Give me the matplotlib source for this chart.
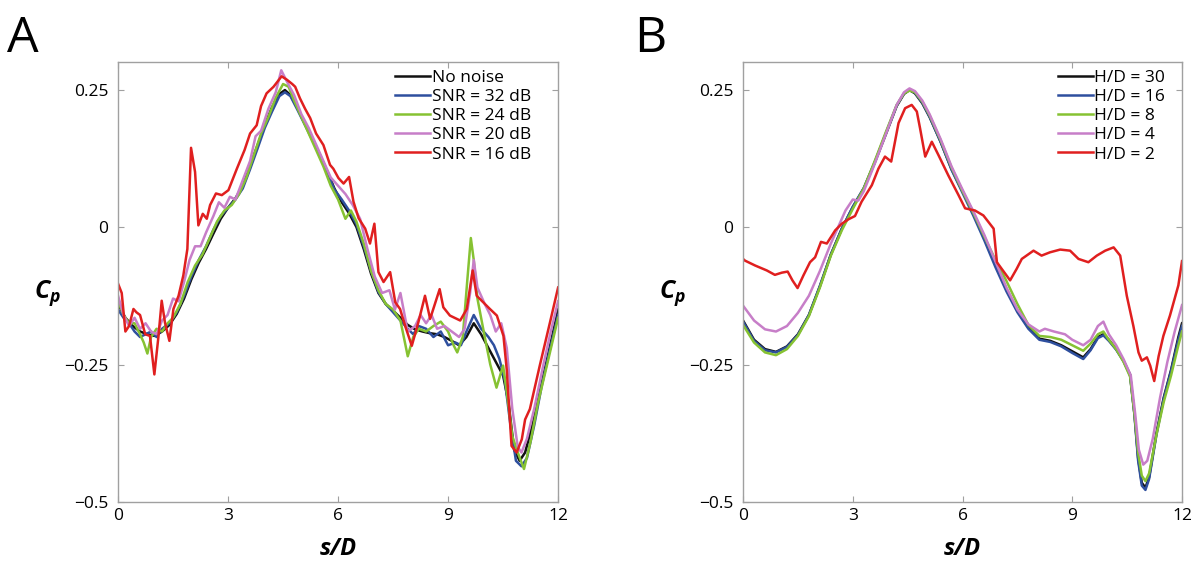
import matplotlib
matplotlib.use("Agg")
import matplotlib.pyplot as plt

plt.rcParams['font.family'] = ['Open Sans', 'DejaVu Sans']
plt.rcParams['mathtext.fontset'] = 'custom'
plt.rcParams['mathtext.it'] = 'Open Sans:italic:bold'
plt.rcParams['mathtext.rm'] = 'Open Sans:bold'

# ---- data (s/D, Cp) ----
# panel A: noise levels
a_no_noise = [(0, -0.14), (0.2, -0.165), (0.4, -0.18), (0.6, -0.19), (0.8, -0.195), (1.0, -0.198),
              (1.2, -0.19), (1.4, -0.178), (1.6, -0.158), (1.8, -0.13), (2.0, -0.095), (2.2, -0.065),
              (2.4, -0.04), (2.6, -0.012), (2.8, 0.015), (3.0, 0.035), (3.2, 0.052), (3.4, 0.075),
              (3.6, 0.112), (3.8, 0.148), (4.0, 0.185), (4.2, 0.218), (4.4, 0.242), (4.55, 0.249),
              (4.7, 0.24), (4.9, 0.215), (5.1, 0.188), (5.3, 0.16), (5.5, 0.132), (5.7, 0.102),
              (5.9, 0.07), (6.1, 0.045), (6.3, 0.025), (6.5, 0.0), (6.7, -0.04), (6.9, -0.085),
              (7.1, -0.12), (7.3, -0.14), (7.5, -0.152), (7.7, -0.165), (7.9, -0.178), (8.1, -0.186),
              (8.3, -0.19), (8.5, -0.193), (8.7, -0.195), (8.9, -0.2), (9.1, -0.207), (9.3, -0.215),
              (9.5, -0.2), (9.7, -0.175), (9.9, -0.195), (10.1, -0.22), (10.3, -0.245), (10.5, -0.27),
              (10.65, -0.32), (10.8, -0.405), (10.95, -0.425), (11.1, -0.41), (11.3, -0.36),
              (11.5, -0.3), (11.7, -0.24), (11.9, -0.18), (12, -0.15)]
a_snr32 = [(0, -0.15), (0.15, -0.165), (0.3, -0.175), (0.45, -0.19), (0.6, -0.2), (0.75, -0.195),
           (0.9, -0.19), (1.05, -0.2), (1.2, -0.185), (1.4, -0.175), (1.6, -0.155), (1.8, -0.125),
           (2.0, -0.09), (2.2, -0.06), (2.4, -0.035), (2.6, -0.005), (2.8, 0.02), (3.0, 0.035),
           (3.2, 0.05), (3.4, 0.07), (3.6, 0.105), (3.8, 0.142), (4.0, 0.18), (4.2, 0.21),
           (4.4, 0.238), (4.55, 0.245), (4.7, 0.238), (4.9, 0.212), (5.1, 0.185), (5.3, 0.158),
           (5.5, 0.13), (5.7, 0.1), (5.9, 0.068), (6.1, 0.05), (6.3, 0.03), (6.5, 0.005),
           (6.7, -0.035), (6.9, -0.08), (7.1, -0.118), (7.3, -0.14), (7.5, -0.155), (7.7, -0.17),
           (7.9, -0.185), (8.05, -0.195), (8.2, -0.18), (8.4, -0.185), (8.6, -0.2), (8.8, -0.19),
           (9.0, -0.215), (9.2, -0.21), (9.35, -0.215), (9.5, -0.19), (9.7, -0.16), (9.9, -0.185),
           (10.1, -0.2), (10.25, -0.215), (10.4, -0.24), (10.55, -0.28), (10.7, -0.36),
           (10.85, -0.425), (11.0, -0.435), (11.15, -0.42), (11.35, -0.36), (11.55, -0.29),
           (11.75, -0.23), (12, -0.16)]
a_snr24 = [(0, -0.135), (0.15, -0.16), (0.3, -0.175), (0.45, -0.175), (0.6, -0.195), (0.7, -0.21),
           (0.8, -0.23), (0.9, -0.2), (1.05, -0.185), (1.2, -0.19), (1.35, -0.175), (1.5, -0.165),
           (1.7, -0.14), (1.9, -0.1), (2.1, -0.07), (2.3, -0.05), (2.5, -0.02), (2.7, 0.01),
           (2.9, 0.03), (3.1, 0.04), (3.3, 0.06), (3.5, 0.09), (3.7, 0.13), (3.9, 0.17),
           (4.1, 0.2), (4.3, 0.235), (4.5, 0.26), (4.65, 0.255), (4.8, 0.23), (5.0, 0.2),
           (5.2, 0.17), (5.4, 0.14), (5.6, 0.11), (5.8, 0.075), (6.0, 0.05), (6.2, 0.015),
           (6.35, 0.03), (6.5, 0.01), (6.7, -0.03), (6.9, -0.08), (7.1, -0.115), (7.3, -0.14),
           (7.5, -0.15), (7.7, -0.17), (7.9, -0.235), (8.05, -0.2), (8.2, -0.185), (8.4, -0.19),
           (8.6, -0.18), (8.8, -0.172), (9.0, -0.19), (9.15, -0.215), (9.25, -0.228), (9.4, -0.2),
           (9.52, -0.1), (9.62, -0.02), (9.7, -0.06), (9.8, -0.13), (10.0, -0.2), (10.15, -0.25),
           (10.32, -0.292), (10.5, -0.252), (10.6, -0.3), (10.75, -0.38), (10.9, -0.41),
           (11.07, -0.44), (11.25, -0.39), (11.45, -0.32), (11.7, -0.25), (12, -0.165)]
a_snr20 = [(0, -0.125), (0.15, -0.16), (0.3, -0.18), (0.45, -0.165), (0.6, -0.185), (0.75, -0.175),
           (0.9, -0.19), (1.05, -0.195), (1.2, -0.17), (1.35, -0.16), (1.5, -0.13), (1.65, -0.135),
           (1.8, -0.1), (1.95, -0.06), (2.1, -0.035), (2.25, -0.035), (2.4, -0.01), (2.6, 0.02),
           (2.75, 0.045), (2.9, 0.035), (3.05, 0.055), (3.2, 0.05), (3.4, 0.085), (3.6, 0.12),
           (3.75, 0.165), (3.9, 0.175), (4.1, 0.215), (4.3, 0.245), (4.45, 0.285), (4.6, 0.265),
           (4.8, 0.24), (5.0, 0.205), (5.2, 0.18), (5.4, 0.15), (5.6, 0.12), (5.8, 0.09),
           (6.0, 0.075), (6.2, 0.06), (6.4, 0.04), (6.6, 0.015), (6.8, -0.04), (7.0, -0.09),
           (7.2, -0.12), (7.4, -0.115), (7.55, -0.15), (7.7, -0.12), (7.9, -0.19), (8.1, -0.18),
           (8.25, -0.16), (8.4, -0.175), (8.55, -0.16), (8.7, -0.185), (8.9, -0.18), (9.1, -0.19),
           (9.3, -0.2), (9.45, -0.185), (9.6, -0.12), (9.7, -0.06), (9.8, -0.11), (10.0, -0.14),
           (10.15, -0.16), (10.3, -0.19), (10.45, -0.175), (10.6, -0.22), (10.75, -0.33),
           (10.9, -0.4), (11.0, -0.41), (11.15, -0.385), (11.35, -0.33), (11.6, -0.25),
           (11.8, -0.19), (12, -0.135)]
a_snr16 = [(0, -0.103), (0.1, -0.12), (0.2, -0.19), (0.3, -0.18), (0.42, -0.149), (0.5, -0.155),
           (0.6, -0.16), (0.74, -0.195), (0.87, -0.198), (0.99, -0.268), (1.1, -0.2), (1.19, -0.134),
           (1.28, -0.174), (1.4, -0.207), (1.51, -0.149), (1.65, -0.125), (1.78, -0.088),
           (1.89, -0.04), (1.99, 0.144), (2.1, 0.1), (2.19, 0.003), (2.31, 0.024), (2.42, 0.015),
           (2.51, 0.04), (2.67, 0.061), (2.83, 0.058), (3.01, 0.067), (3.24, 0.106), (3.45, 0.14),
           (3.6, 0.17), (3.78, 0.185), (3.9, 0.22), (4.05, 0.243), (4.24, 0.255), (4.46, 0.274),
           (4.6, 0.268), (4.75, 0.26), (4.83, 0.255), (4.96, 0.234), (5.1, 0.215), (5.24, 0.198),
           (5.4, 0.17), (5.6, 0.149), (5.78, 0.113), (5.87, 0.106), (6.01, 0.089), (6.15, 0.079),
           (6.3, 0.091), (6.42, 0.046), (6.56, 0.016), (6.74, -0.003), (6.87, -0.03), (6.99, 0.006),
           (7.1, -0.082), (7.24, -0.1), (7.42, -0.082), (7.56, -0.137), (7.69, -0.149),
           (7.83, -0.18), (8.01, -0.216), (8.19, -0.173), (8.37, -0.125), (8.51, -0.167),
           (8.77, -0.113), (8.87, -0.146), (9.05, -0.161), (9.33, -0.17), (9.51, -0.149),
           (9.67, -0.079), (9.78, -0.125), (9.96, -0.137), (10.14, -0.149), (10.33, -0.161),
           (10.51, -0.198), (10.6, -0.26), (10.73, -0.398), (10.87, -0.41), (11.01, -0.386),
           (11.1, -0.35), (11.23, -0.331), (11.5, -0.252), (11.78, -0.173), (12, -0.11)]

# panel B: height of domain
b_hd30 = [(0, -0.17), (0.3, -0.205), (0.6, -0.222), (0.9, -0.227), (1.2, -0.217), (1.5, -0.195),
          (1.8, -0.16), (2.1, -0.108), (2.4, -0.05), (2.7, -0.003), (3.0, 0.036), (3.3, 0.07),
          (3.6, 0.117), (3.9, 0.168), (4.2, 0.22), (4.4, 0.242), (4.55, 0.249), (4.7, 0.243),
          (4.9, 0.225), (5.1, 0.2), (5.4, 0.155), (5.7, 0.105), (6.0, 0.065), (6.3, 0.025),
          (6.6, -0.02), (6.9, -0.068), (7.2, -0.113), (7.5, -0.152), (7.8, -0.183), (8.1, -0.203),
          (8.4, -0.207), (8.7, -0.215), (9.0, -0.226), (9.3, -0.237), (9.5, -0.222), (9.7, -0.2),
          (9.85, -0.195), (10.0, -0.205), (10.2, -0.222), (10.4, -0.243), (10.58, -0.268),
          (10.7, -0.34), (10.8, -0.42), (10.9, -0.465), (11.0, -0.474), (11.1, -0.455),
          (11.3, -0.375), (11.5, -0.31), (11.7, -0.26), (11.9, -0.2), (12, -0.175)]
b_hd16 = [(0, -0.172), (0.3, -0.207), (0.6, -0.224), (0.9, -0.228), (1.2, -0.218), (1.5, -0.196),
          (1.8, -0.16), (2.1, -0.107), (2.4, -0.05), (2.7, -0.003), (3.0, 0.037), (3.3, 0.071),
          (3.6, 0.118), (3.9, 0.17), (4.2, 0.221), (4.4, 0.243), (4.55, 0.25), (4.7, 0.244),
          (4.9, 0.226), (5.1, 0.2), (5.4, 0.155), (5.7, 0.104), (6.0, 0.062), (6.3, 0.02),
          (6.6, -0.025), (6.9, -0.073), (7.2, -0.117), (7.5, -0.155), (7.8, -0.185), (8.1, -0.205),
          (8.4, -0.209), (8.7, -0.217), (9.0, -0.229), (9.3, -0.24), (9.5, -0.224), (9.7, -0.202),
          (9.85, -0.197), (10.0, -0.207), (10.2, -0.223), (10.4, -0.244), (10.58, -0.27),
          (10.7, -0.342), (10.8, -0.425), (10.9, -0.47), (11.0, -0.478), (11.1, -0.458),
          (11.3, -0.378), (11.5, -0.312), (11.7, -0.262), (11.9, -0.205), (12, -0.18)]
b_hd8 = [(0, -0.178), (0.3, -0.21), (0.6, -0.228), (0.9, -0.233), (1.2, -0.222), (1.5, -0.198),
         (1.8, -0.162), (2.1, -0.11), (2.4, -0.052), (2.7, -0.006), (3.0, 0.033), (3.3, 0.07),
         (3.6, 0.12), (3.9, 0.172), (4.2, 0.222), (4.4, 0.243), (4.55, 0.248), (4.7, 0.245),
         (4.9, 0.228), (5.1, 0.203), (5.4, 0.158), (5.7, 0.108), (6.0, 0.065), (6.3, 0.025),
         (6.6, -0.018), (6.9, -0.06), (7.2, -0.098), (7.5, -0.14), (7.8, -0.178), (8.1, -0.198),
         (8.4, -0.2), (8.7, -0.205), (9.0, -0.215), (9.3, -0.225), (9.5, -0.212), (9.7, -0.195),
         (9.85, -0.19), (10.0, -0.205), (10.2, -0.222), (10.4, -0.245), (10.58, -0.272),
         (10.7, -0.34), (10.8, -0.41), (10.9, -0.452), (11.0, -0.462), (11.1, -0.448),
         (11.3, -0.378), (11.5, -0.318), (11.7, -0.27), (11.9, -0.215), (12, -0.19)]
b_hd4 = [(0, -0.143), (0.3, -0.17), (0.6, -0.186), (0.9, -0.19), (1.2, -0.18), (1.5, -0.156),
         (1.8, -0.125), (2.1, -0.08), (2.4, -0.03), (2.6, 0.0), (2.8, 0.03), (3.0, 0.05),
         (3.15, 0.048), (3.3, 0.065), (3.6, 0.115), (3.9, 0.168), (4.2, 0.222), (4.4, 0.245),
         (4.55, 0.252), (4.7, 0.247), (4.9, 0.23), (5.1, 0.205), (5.4, 0.16), (5.7, 0.11),
         (6.0, 0.068), (6.3, 0.028), (6.6, -0.015), (6.9, -0.063), (7.2, -0.11), (7.5, -0.15),
         (7.8, -0.177), (8.1, -0.19), (8.25, -0.185), (8.5, -0.19), (8.8, -0.195), (9.0, -0.205),
         (9.3, -0.215), (9.5, -0.205), (9.7, -0.18), (9.85, -0.172), (10.0, -0.195),
         (10.2, -0.215), (10.4, -0.24), (10.6, -0.27), (10.72, -0.34), (10.82, -0.405),
         (10.94, -0.432), (11.05, -0.425), (11.2, -0.385), (11.4, -0.31), (11.6, -0.245),
         (11.8, -0.19), (12, -0.142)]
b_hd2 = [(0, -0.058), (0.05, -0.061), (0.33, -0.07), (0.65, -0.079), (0.87, -0.087), (1.06, -0.083),
         (1.22, -0.081), (1.35, -0.097), (1.49, -0.111), (1.65, -0.088), (1.83, -0.064),
         (1.97, -0.055), (2.13, -0.027), (2.29, -0.03), (2.52, -0.006), (2.7, 0.006), (2.88, 0.014),
         (3.06, 0.02), (3.24, 0.046), (3.52, 0.076), (3.7, 0.106), (3.88, 0.128), (4.05, 0.119),
         (4.25, 0.189), (4.43, 0.216), (4.61, 0.222), (4.75, 0.21), (4.84, 0.179), (4.98, 0.128),
         (5.16, 0.155), (5.34, 0.131), (5.61, 0.094), (5.89, 0.058), (6.07, 0.034), (6.34, 0.03),
         (6.57, 0.021), (6.85, -0.003), (6.94, -0.064), (7.07, -0.076), (7.3, -0.097),
         (7.48, -0.076), (7.62, -0.058), (7.94, -0.043), (8.16, -0.052), (8.39, -0.046),
         (8.67, -0.041), (8.94, -0.043), (9.17, -0.058), (9.44, -0.064), (9.67, -0.052),
         (9.9, -0.043), (10.13, -0.037), (10.31, -0.052), (10.49, -0.125), (10.67, -0.18),
         (10.81, -0.228), (10.9, -0.243), (11.04, -0.237), (11.13, -0.252), (11.24, -0.28),
         (11.36, -0.235), (11.49, -0.198), (11.67, -0.161), (11.9, -0.106), (12, -0.062)]

a_labels = ['No noise', 'SNR = 32 dB', 'SNR = 24 dB', 'SNR = 20 dB', 'SNR = 16 dB']
b_labels = ['H/D = 30', 'H/D = 16', 'H/D = 8', 'H/D = 4', 'H/D = 2']
colors = ['#111111', '#2e4f9e', '#86c232', '#c77ec8', '#e01f1f']

x_ticks = [0, 3, 6, 9, 12]
y_ticks = [-0.5, -0.25, 0, 0.25]
y_ticklabels = ['\u22120.5', '\u22120.25', '0', '0.25']

fig = plt.figure(figsize=(12.01, 5.71), dpi=100)
ax_a = fig.add_axes([0.0983, 0.1208, 0.3664, 0.7706])
ax_b = fig.add_axes([0.6187, 0.1208, 0.3655, 0.7706])


def draw_panel(ax, curves, labels, leg_x, letter, letter_x):
    for pts, lab, c in zip(curves, labels, colors):
        s, cp = zip(*pts)
        ax.plot(s, cp, color=c, lw=1.8, label=lab)
    ax.set_xlim(0, 12)
    ax.set_ylim(-0.5, 0.3)
    ax.set_xticks(x_ticks)
    ax.set_yticks(y_ticks, y_ticklabels)
    for sp in ax.spines.values():
        sp.set_color('#a0a0a0')
        sp.set_linewidth(1.0)
    ax.tick_params(axis='both', direction='in', top=True, right=True, length=4,
                   color='#a0a0a0', labelsize=12.5)
    ax.tick_params(axis='x', pad=4)
    ax.tick_params(axis='y', pad=7)
    ax.set_xlabel('s/D', fontsize=17, fontstyle='italic', fontweight='bold', labelpad=10)
    ax.text(-0.16, 0.475, r'$C_p$', transform=ax.transAxes, ha='center', va='center',
            fontsize=18)
    ax.legend(loc='upper left', bbox_to_anchor=(leg_x, 0.982), frameon=False, fontsize=12.5,
              handlelength=2.0, handletextpad=0.1, labelspacing=0.17, borderpad=0,
              borderaxespad=0)
    fig.text(letter_x, 0.975, letter, fontsize=36, fontweight='medium', va='top', ha='left')


draw_panel(ax_a, [a_no_noise, a_snr32, a_snr24, a_snr20, a_snr16], a_labels, 0.63, 'A', 0.006)
draw_panel(ax_b, [b_hd30, b_hd16, b_hd8, b_hd4, b_hd2], b_labels, 0.7175, 'B', 0.528)

fig.savefig('out.png', dpi=100)
